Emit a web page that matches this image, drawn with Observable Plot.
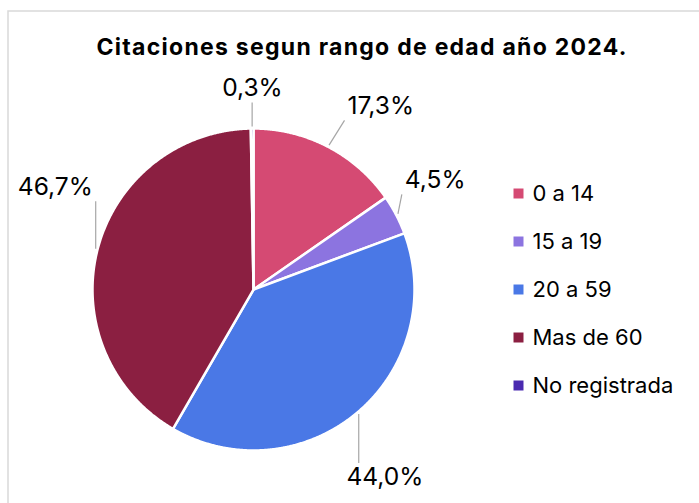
<!DOCTYPE html>
<html>
<head>
<meta charset="utf-8">
<script src="https://cdn.jsdelivr.net/npm/d3@7"></script>
<script src="https://cdn.jsdelivr.net/npm/@observablehq/plot@0.6"></script>
<style>
  html, body { margin: 0; padding: 0; background: #fff; }
  svg { display: block; }
</style>
</head>
<body>
<div id="chart"></div>
<script>
// ---- data ----
const title = "Citaciones segun rango de edad año 2024.";
const categories = ["0 a 14", "15 a 19", "20 a 59", "Mas de 60", "No registrada"];
const values = [17.3, 4.5, 44.0, 46.7, 0.3];
const valueLabels = ["17,3%", "4,5%", "44,0%", "46,7%", "0,3%"];
const colors = ["#d54a73", "#8c74e0", "#4a78e6", "#8b1f41", "#4a2ab0"];

// ---- layout (styling, not data) ----
const W = 699, H = 503;
const cx = 253, cy = 289, R = 161;
const labelPlace = [ // angle (deg, clockwise from top) and distance of each value label
  {a: 34.8, d: 223}, {a: 59, d: 212}, {a: 145, d: 229}, {a: 297.3, d: 223}, {a: 359.7, d: 201}
];
const font = "Inter";

const ctx = document.createElement("canvas").getContext("2d");
function fitSize(text, target, weight) {
  ctx.font = `${weight} 100px '${font}'`;
  const w = ctx.measureText(text).width;
  return w > 0 ? Math.min(40, 100 * target / w) : 20;
}
const titleFont = 23;
ctx.font = `bold ${titleFont}px '${font}'`;
const titleW = ctx.measureText(title).width;
const titleSpacing = titleW > 0 ? Math.max(0, Math.min(2, (530 - titleW) / (title.length - 1))) : 0;
const labelFont = Math.min(25, fitSize("46,7%", 75, "normal"));
const legendFont = Math.min(22, fitSize("No registrada", 153, "normal"));
ctx.font = `${labelFont}px '${font}'`;

const arcs = d3.pie().sort(null).value(d => d)(values);
const pt = (a, r) => [cx + r * Math.sin(a), cy - r * Math.cos(a)];

// slice polygons
const slicePts = [];
arcs.forEach((arc, i) => {
  slicePts.push({cat: categories[i], x: cx, y: cy});
  const n = Math.max(2, Math.ceil((arc.endAngle - arc.startAngle) / 0.005));
  for (let k = 0; k <= n; k++) {
    const a = arc.startAngle + (arc.endAngle - arc.startAngle) * k / n;
    const [x, y] = pt(a, R);
    slicePts.push({cat: categories[i], x, y});
  }
});

// labels and leader lines
const labelData = arcs.map((arc, i) => {
  const mid = (arc.startAngle + arc.endAngle) / 2;
  const [lx, ly] = pt(labelPlace[i].a * Math.PI / 180, labelPlace[i].d);
  const [ex, ey] = pt(mid, R + 2);
  const hw = ctx.measureText(valueLabels[i]).width / 2 + 3;
  const hh = 14;
  const tx = Math.max(lx - hw, Math.min(lx + hw, ex));
  const ty = Math.max(ly - hh, Math.min(ly + hh, ey));
  return {label: valueLabels[i], lx, ly, ex, ey, tx, ty};
});

const legendData = categories.map((c, i) => ({cat: c, i}));
const legendY = i => 193 + i * 48;

const chart = Plot.plot({
  width: W,
  height: H,
  margin: 0,
  x: {domain: [0, W], range: [0, W], axis: null},
  y: {domain: [0, H], range: [0, H], axis: null},
  color: {domain: categories, range: colors},
  style: {fontFamily: font, background: "#fff"},
  marks: [
    Plot.frame({stroke: "#d9d9d9", strokeWidth: 1.5, insetLeft: 7.5, insetTop: 10.5, insetRight: -10, insetBottom: -10}),
    Plot.line(slicePts, {x: "x", y: "y", z: "cat", fill: "cat", stroke: "#fff", strokeWidth: 2.5, curve: "linear-closed"}),
    Plot.link(labelData, {x1: "ex", y1: "ey", x2: "tx", y2: "ty", stroke: "#a6a6a6", strokeWidth: 1.2}),
    Plot.text(labelData, {x: "lx", y: "ly", text: "label", fontSize: labelFont, fill: "#000", textAnchor: "middle", lineAnchor: "middle"}),
    Plot.dot(legendData, {x: () => 518, y: d => legendY(d.i), symbol: "square", r: 5.64, fill: "cat", stroke: null}),
    Plot.text(legendData, {x: () => 532, y: d => legendY(d.i), text: "cat", fontSize: legendFont, fill: "#000", textAnchor: "start", lineAnchor: "middle"}),
    Plot.text([title], {x: () => 361 + titleSpacing / 2, y: () => 47, text: d => d, fontSize: titleFont, fontWeight: "bold", fill: "#000", textAnchor: "middle", lineAnchor: "middle", className: "chart-title"})
  ]
});
chart.querySelectorAll(".chart-title text").forEach(t => t.style.letterSpacing = `${titleSpacing}px`);
document.getElementById("chart").append(chart);
</script>
</body>
</html>
